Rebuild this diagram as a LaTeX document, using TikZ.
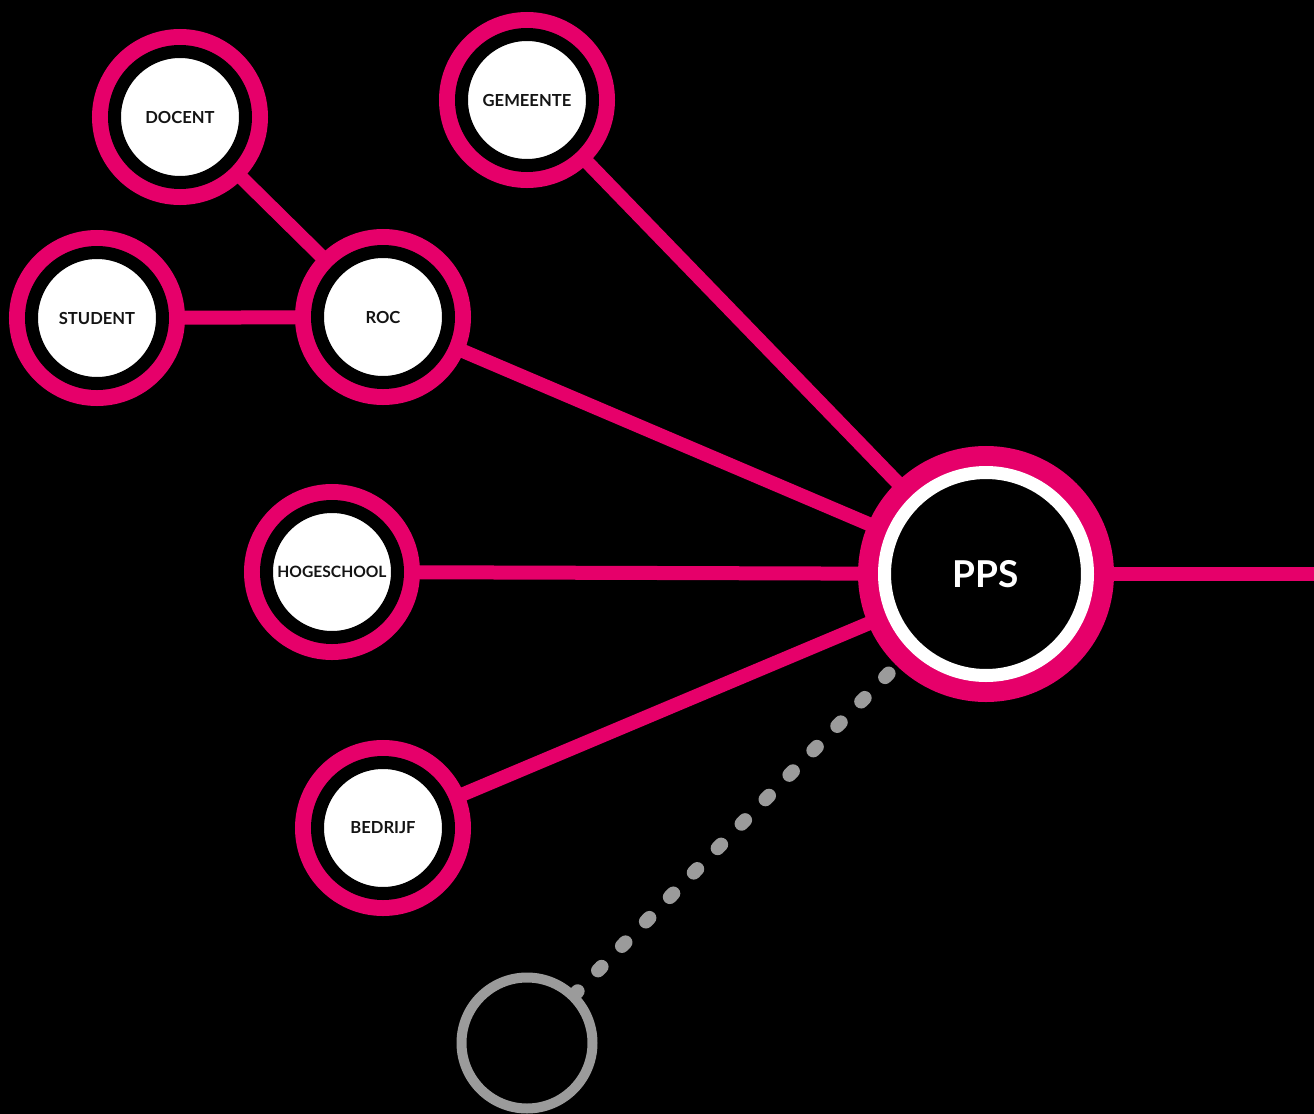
\documentclass[tikz,border=0pt]{standalone}
\usepackage{fontspec}
\setmainfont{Lato}
\usetikzlibrary{backgrounds}
\definecolor{ppspink}{RGB}{230,0,106}
\definecolor{ppsgray}{RGB}{155,155,155}
\definecolor{ppstext}{RGB}{20,20,20}
\begin{document}
\begin{tikzpicture}[x=0.5pt,y=-0.5pt,
  smallnode/.style={circle, inner sep=0pt, minimum size=65.5pt,
    fill=white, draw=black, line width=6.5pt,
    preaction={draw=ppspink, line width=22.5pt},
    text=ppstext, font=\bfseries\fontsize{8.3}{10}\selectfont},
  hubnode/.style={circle, inner sep=0pt, minimum size=101.5pt,
    fill=black, draw=white, line width=6.5pt,
    preaction={draw=ppspink, line width=26.5pt},
    text=white, font=\bfseries\fontsize{18.5}{22}\selectfont},
  emptynode/.style={circle, inner sep=0pt, minimum size=65.5pt,
    fill=black, draw=ppsgray, line width=5pt},
  link/.style={draw=ppspink, line width=7pt},
  dotlink/.style={draw=ppsgray, line width=7pt, line cap=round,
    dash pattern=on 2.5pt off 14.6pt, dash phase=0.5pt}
]
\useasboundingbox (0,0) rectangle (1314,1114);

\node[smallnode] (docent) at (180,117) {DOCENT};
\node[smallnode] (gemeente) at (527,100) {GEMEENTE};
\node[smallnode] (student) at (97,318) {STUDENT};
\node[smallnode] (roc) at (383,317) {ROC};
\node[smallnode, font=\bfseries\fontsize{7.8}{10}\selectfont] (hogeschool) at (332,572) {HOGESCHOOL};
\node[smallnode] (bedrijf) at (383,828) {BEDRIJF};
\node[hubnode] (pps) at (986,574) {PPS};
\node[emptynode] (empty) at (527,1043) {};
\coordinate (rightend) at (1314,574);

\begin{pgfonlayer}{background}
  \fill[black] (0,0) rectangle (1314,1114);
  \draw[link] (docent.center) -- (roc.center);
  \draw[link] (student.center) -- (roc.center);
  \draw[link] (roc.center) -- (pps.center);
  \draw[link] (gemeente.center) -- (pps.center);
  \draw[link] (hogeschool.center) -- (pps.center);
  \draw[link] (bedrijf.center) -- (pps.center);
  \draw[link] (pps.center) -- (rightend);
  \draw[dotlink] (empty.center) -- (pps.center);
\end{pgfonlayer}
\end{tikzpicture}
\end{document}
